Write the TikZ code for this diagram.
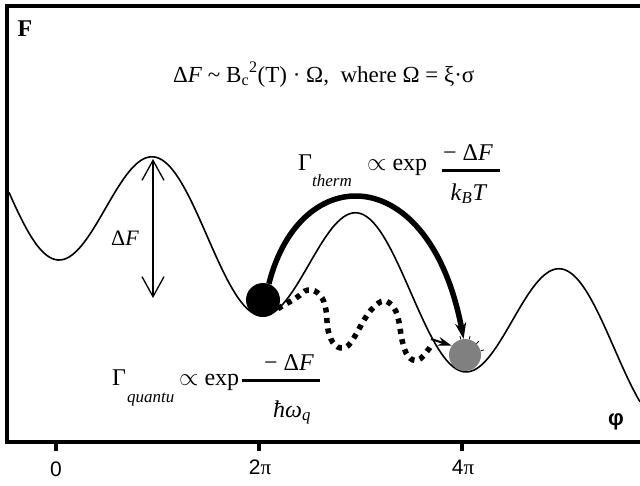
\documentclass[tikz,border=0pt]{standalone}
\usepackage{fontspec}
\setmainfont{Liberation Serif}
\newfontfamily\arial{Liberation Sans}
\usetikzlibrary{arrows.meta}
\definecolor{ballgray}{RGB}{128,128,128}
\begin{document}
\begin{tikzpicture}[x=1pt,y=-1pt,
  frameline/.style={line width=4pt},
  potential/.style={line width=1.6pt},
  big/.style={font=\fontsize{24}{28}\selectfont, inner sep=0pt, anchor=base west},
  bigc/.style={font=\fontsize{24}{28}\selectfont, inner sep=0pt, anchor=base},
  subs/.style={font=\fontsize{17}{20}\selectfont\itshape, inner sep=0pt, anchor=base west},
  ticklab/.style={font=\arial\fontsize{21}{25}\selectfont, inner sep=0pt},
  ball/.style={circle, inner sep=0pt},
  thermal/.style={line width=5.5pt, -{Stealth[length=16pt,width=11pt]}},
  tunnel/.style={line width=5.5pt, dash pattern=on 5pt off 5.5pt},
  barbarrow/.style={line width=1.3pt, {Straight Barb[length=20pt,width=22pt]}-{Straight Barb[length=20pt,width=22pt]}}
]
\useasboundingbox (0,0) rectangle (640,485);

% frame and axis
\draw[frameline, line join=miter] (640,6) -- (7,6) -- (7,442) -- (640,442);
\foreach \t in {56,259,462} \draw[frameline] (\t,442) -- (\t,451);
\node[ticklab] (l0) at (56,469) {0};
\node[ticklab] (l2) at (260,467) {2{\rmfamily π}};
\node[ticklab] (l4) at (463,467) {4{\rmfamily π}};

% potential curve
\draw[potential] plot[domain=9:640, samples=220, smooth]
  (\x, {194.4 + 0.275*(\x-54.6) + 65*cos(1.769*(\x-54.6))});

% labels
\node[font=\fontsize{24}{28}\selectfont\bfseries, inner sep=0pt] (Flab) at (25,29) {F};
\node[font=\arial\bfseries\fontsize{22}{26}\selectfont, inner sep=0pt] (philab) at (616,422) {φ};
\node[font=\fontsize{23}{27}\selectfont, inner sep=0pt, anchor=base west] (top) at (173,82)
  {Δ\textit{F} \textasciitilde{} B\textsubscript{c}\textsuperscript{2}(T) · Ω,\ \ where Ω = ξ·σ};

% Delta F arrow
\coordinate (dtop) at (153,159);
\coordinate (dbot) at (153,298);
\draw[barbarrow] (dtop) -- (dbot);
\node[font=\fontsize{22}{26}\selectfont, inner sep=0pt] (dF) at (125,238) {Δ\textit{F}};

% balls
\node[ball, fill=black, minimum size=34pt] (b0) at (263,300) {};
\node[ball, fill=ballgray, minimum size=32pt] (g) at (465,355) {};
\foreach \a in {105,75,45,15} \draw[line width=0.8pt] (g.\a) -- ++({3.5*cos(\a)},{-3.5*sin(\a)});

% thermal activation arrow
\draw[thermal] (b0.70) .. controls (300,160) and (430,160) .. (g.95);

% tunnelling path
\draw[tunnel] plot[smooth, tension=0.7] coordinates {(b0.-30) (296,298) (308,290) (320,295) (326,310) (328,330) (335,345) (346,347) (355,336) (364,320) (373,308) (384,301) (394,308) (399,322) (402,340) (408,356) (418,360) (428,350) (432,344)};
\coordinate (tend) at (431,339);
\draw[line width=2pt, -{Stealth[length=14pt,width=9pt]}] (tend) -- (g.145);

% thermal rate
\node[big] (gt) at (298,170) {Γ};
\node[subs] (gts) at (312,186) {therm};
\node[big] (gtp) at (367,170) {$\propto$ exp};
\node[bigc] (gtn) at (468,160) {− Δ\textit{F}};
\draw[line width=3pt] (442,170) -- (500,170);
\node[bigc] (gtd) at (469,200) {\textit{k}\textsubscript{\textit{B}}\textit{T}};

% quantum rate
\node[big] (gq) at (112,385) {Γ};
\node[subs] (gqs) at (127,402) {quantu};
\node[big] (gqp) at (179,385) {$\propto$ exp};
\node[bigc] (gqn) at (289,370) {− Δ\textit{F}};
\draw[line width=3pt] (242,380) -- (320,380);
\node[bigc] (gqd) at (292,417) {\textit{ħω}\textsubscript{\textit{q}}};
\end{tikzpicture}
\end{document}
